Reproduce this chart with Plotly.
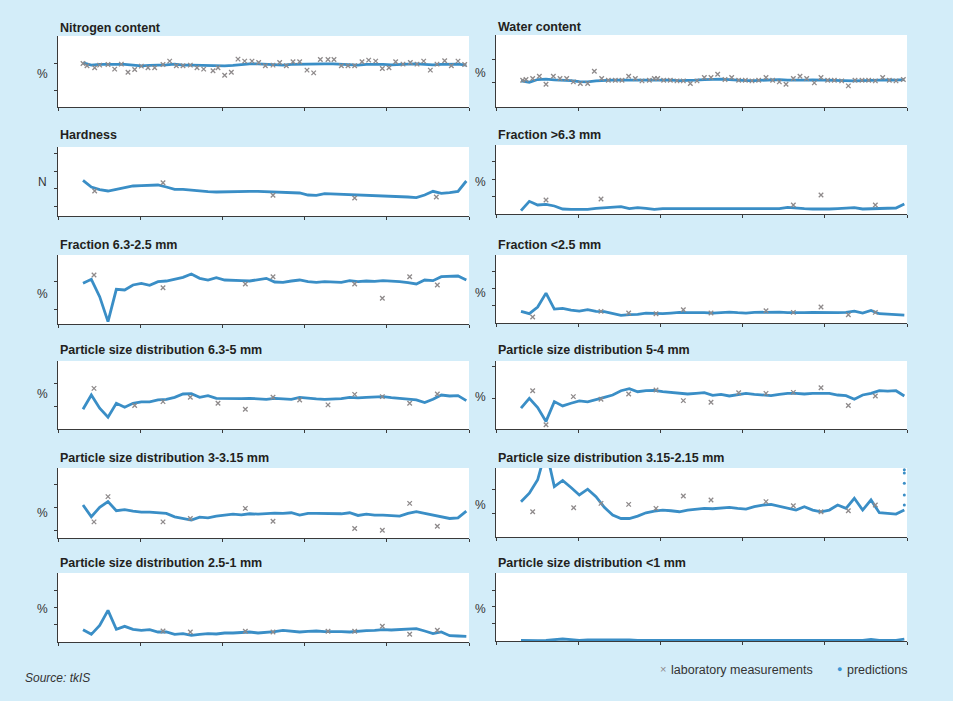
import plotly.graph_objects as go

W, H = 953, 701
BG = "#d3edf9"
BLUE = "#3a8ec6"
GREY = "#8e8a8b"
INK = "#231f20"
AXIS = "#3a3a3a"
FONT = "Liberation Sans, Arial, Helvetica, sans-serif"

# ---------------- data (sample index on x, arbitrary units on y) ----------------
sample_x = [75, 100, 125, 150, 175, 200, 225, 250, 275, 300, 325, 350, 375, 400, 425,
            450, 475, 500, 525, 550, 575, 600, 625, 650, 675, 700, 725, 750, 775, 800,
            825, 850, 875, 900, 925, 950, 975, 1000, 1025, 1050, 1075, 1100, 1125, 1150,
            1175, 1200, 1225]
x_ticks = [0, 246.6, 493.2, 739.8, 986.4, 1233]

titles = ["Nitrogen content", "Water content", "Hardness", "Fraction >6.3 mm",
          "Fraction 6.3-2.5 mm", "Fraction <2.5 mm",
          "Particle size distribution 6.3-5 mm", "Particle size distribution 5-4 mm",
          "Particle size distribution 3-3.15 mm", "Particle size distribution 3.15-2.15 mm",
          "Particle size distribution 2.5-1 mm", "Particle size distribution <1 mm"]
units = ["%", "%", "N", "%", "%", "%", "%", "%", "%", "%", "%", "%"]

nitrogen_pred = [132, 125, 127, 128, 127, 127, 124, 123, 124, 124, 126, 128, 125, 125, 124, 124,
                 123, 123, 124, 127, 129, 129, 128, 126, 125, 127, 128, 127, 128, 129, 129, 128,
                 126, 125, 127, 128, 127, 126, 128, 128, 129, 127, 126, 127, 127, 128, 125]
nitrogen_lab_x = [75, 87, 110, 125, 150, 170, 190, 210, 230, 250, 270, 290, 315, 335, 355, 375,
                  397, 417, 437, 465, 480, 500, 520, 540, 560, 582, 602, 622, 645, 665, 685, 705,
                  725, 747, 767, 787, 810, 828, 850, 870, 890, 912, 932, 953, 973, 993, 1013, 1035,
                  1057, 1077, 1097, 1117, 1137, 1160, 1180, 1200, 1220]
nitrogen_lab_y = [130, 123, 117, 125, 127, 113, 128, 104, 112, 122, 117, 117, 127, 137, 123, 123,
                  125, 117, 113, 108, 117, 95, 104, 143, 137, 137, 133, 123, 125, 133, 123, 135,
                  135, 110, 102, 142, 142, 142, 123, 123, 123, 135, 140, 137, 115, 117, 135, 128,
                  133, 128, 137, 110, 128, 138, 123, 137, 127]

water_pred = [78, 74, 82, 83, 81, 81, 79, 76, 75, 78, 80, 80, 80, 80, 81, 82, 82, 81, 80, 79,
              79, 80, 82, 83, 83, 82, 80, 79, 79, 80, 81, 82, 80, 79, 80, 81, 80, 80, 79, 79,
              78, 79, 80, 80, 81, 80, 82]
water_lab_x = [80, 90, 110, 130, 150, 172, 192, 212, 232, 253, 275, 295, 317, 337, 358, 378,
               398, 418, 438, 460, 475, 485, 503, 523, 543, 562, 583, 603, 625, 645, 665, 687,
               707, 728, 748, 768, 788, 810, 830, 850, 870, 892, 912, 932, 955, 975, 995, 1015,
               1037, 1057, 1077, 1098, 1118, 1138, 1160, 1180, 1200, 1222]
water_lab_y = [80, 82, 85, 92, 68, 92, 85, 85, 75, 70, 70, 107, 85, 80, 80, 80,
               92, 85, 78, 80, 85, 85, 80, 80, 78, 78, 70, 78, 88, 88, 98, 82,
               88, 80, 80, 78, 80, 88, 80, 75, 68, 85, 92, 85, 72, 88, 80, 80,
               78, 63, 80, 80, 80, 78, 88, 80, 78, 82]

hardness_pred = [107, 87, 79, 75, 80, 85, 90, 91, 92, 93, 87, 80, 80, 77, 74, 73, 72, 73, 73, 74,
                 74, 74, 73, 71, 70, 70, 69, 63, 62, 67, 66, 65, 65, 64, 63, 62, 61, 61, 59, 57,
                 55, 63, 74, 68, 70, 74, 105]
hardness_lab_x = [110, 315, 645, 890, 1135]
hardness_lab_y = [75, 100, 62, 54, 57]

coarse_pred = [10, 38, 27, 29, 24, 15, 14, 14, 14, 17, 19, 20, 22, 16, 19, 17, 14, 16, 16, 15,
               14, 14, 14, 15, 16, 15, 14, 14, 14, 14, 14, 16, 20, 17, 16, 15, 14, 15, 16, 17,
               19, 15, 16, 16, 17, 18, 30]
coarse_lab_x = [150, 315, 892, 975, 1138]
coarse_lab_y = [42, 45, 27, 57, 27]

mid_pred = [122, 134, 82, 7, 104, 102, 117, 122, 116, 127, 129, 134, 140, 150, 137, 132, 139, 132,
            132, 130, 129, 134, 137, 126, 125, 129, 132, 127, 125, 127, 127, 125, 130, 127, 129,
            128, 130, 129, 127, 124, 120, 132, 130, 142, 142, 144, 132]
mid_lab_x = [108, 315, 562, 645, 890, 973, 1055, 1138]
mid_lab_y = [147, 109, 120, 142, 120, 77, 142, 117]

fine_pred = [35, 28, 48, 90, 42, 44, 39, 36, 40, 35, 34, 28, 23, 25, 26, 30, 28, 28, 30, 32,
             31, 32, 31, 30, 32, 33, 31, 30, 32, 33, 34, 33, 31, 30, 31, 32, 31, 32, 31, 32,
             36, 30, 38, 28, 26, 25, 24]
fine_lab_x = [110, 315, 398, 480, 562, 645, 810, 892, 975, 1057, 1138]
fine_lab_y = [18, 35, 30, 28, 40, 30, 37, 32, 48, 25, 32]

psd_63_5_pred = [60, 103, 63, 36, 78, 66, 78, 82, 82, 88, 90, 96, 106, 107, 96, 101, 93, 92, 91,
                 92, 93, 91, 90, 93, 91, 90, 96, 93, 91, 90, 91, 92, 96, 94, 96, 97, 98, 95, 93,
                 89, 88, 80, 90, 103, 100, 101, 86]
psd_63_5_lab_x = [108, 230, 315, 397, 480, 562, 645, 725, 810, 890, 973, 1055, 1138]
psd_63_5_lab_y = [123, 71, 83, 96, 78, 60, 96, 88, 73, 105, 98, 78, 106]

psd_5_4_pred = [63, 93, 65, 23, 83, 70, 78, 85, 82, 88, 96, 103, 116, 122, 113, 116, 117, 113,
                110, 108, 106, 108, 110, 102, 105, 100, 104, 108, 105, 102, 101, 105, 108, 108,
                106, 108, 107, 108, 103, 101, 90, 103, 108, 116, 115, 116, 100]
psd_5_4_lab_x = [110, 150, 232, 315, 398, 480, 562, 645, 728, 810, 892, 975, 1057, 1138]
psd_5_4_lab_y = [116, 13, 98, 90, 106, 118, 86, 81, 110, 108, 111, 125, 71, 100]

psd_3_315_pred = [98, 63, 91, 108, 81, 84, 80, 77, 77, 76, 73, 63, 58, 53, 62, 60, 65, 67, 71,
                  69, 72, 71, 73, 74, 73, 75, 68, 73, 73, 72, 73, 72, 75, 67, 71, 68, 68, 67, 65,
                  73, 78, 73, 68, 61, 58, 60, 80]
psd_3_315_lab_x = [108, 150, 315, 397, 562, 645, 890, 973, 1055, 1138]
psd_3_315_lab_y = [48, 123, 48, 58, 88, 50, 28, 23, 103, 35]

psd_315_215_pred = [105, 130, 170, 260, 150, 168, 147, 125, 142, 120, 88, 65, 55, 55, 62, 72, 77,
                    80, 78, 75, 80, 82, 85, 84, 87, 88, 85, 83, 90, 95, 97, 92, 85, 80, 90, 80,
                    75, 80, 95, 85, 115, 80, 110, 72, 70, 68, 80]
psd_315_215_tail_x = [1225, 1225, 1225, 1225, 1225]
psd_315_215_tail_y = [95, 125, 160, 190, 200]
psd_315_215_lab_x = [110, 233, 315, 398, 480, 562, 645, 810, 892, 975, 1057, 1138]
psd_315_215_lab_y = [75, 87, 100, 97, 85, 122, 110, 105, 93, 75, 78, 95]

psd_25_1_pred = [37, 23, 50, 95, 38, 47, 38, 35, 37, 30, 30, 23, 25, 20, 23, 25, 24, 27, 27, 29,
                 30, 27, 28, 31, 35, 32, 30, 32, 33, 31, 32, 31, 30, 33, 34, 35, 37, 36, 37, 37,
                 40, 33, 25, 30, 19, 18, 17]
psd_25_1_lab_x = [315, 397, 562, 645, 810, 890, 973, 1055, 1138]
psd_25_1_lab_y = [33, 30, 32, 30, 32, 32, 47, 23, 35]

psd_1_pred = [2, 1, 1, 2, 5, 6, 4, 2, 3, 3, 3, 4, 5, 3, 2, 2, 3, 3, 2, 2, 3, 2, 3, 3, 3, 3, 2, 2,
              1, 1, 1, 1, 2, 2, 2, 1, 2, 2, 1, 1, 1, 2, 5, 2, 2, 2, 6]
psd_1_lab_x = []
psd_1_lab_y = []

preds = [nitrogen_pred, water_pred, hardness_pred, coarse_pred, mid_pred, fine_pred,
         psd_63_5_pred, psd_5_4_pred, psd_3_315_pred, psd_315_215_pred, psd_25_1_pred, psd_1_pred]
labs = [(nitrogen_lab_x, nitrogen_lab_y), (water_lab_x, water_lab_y),
        (hardness_lab_x, hardness_lab_y), (coarse_lab_x, coarse_lab_y),
        (mid_lab_x, mid_lab_y), (fine_lab_x, fine_lab_y),
        (psd_63_5_lab_x, psd_63_5_lab_y), (psd_5_4_lab_x, psd_5_4_lab_y),
        (psd_3_315_lab_x, psd_3_315_lab_y), (psd_315_215_lab_x, psd_315_215_lab_y),
        (psd_25_1_lab_x, psd_25_1_lab_y), (psd_1_lab_x, psd_1_lab_y)]
y_max = [212, 215, 207, 207, 207, 205, 206, 206, 208, 205, 207, 205]
y_ticks = [[130, 48], [143, 74], [187, 135, 82, 30], [157, 105, 52], [127, 44],
           [155, 103, 52], [138, 68], [188, 93], [160, 90, 23], [140, 70],
           [155, 105, 53], [153, 103, 53]]

# ---------------- layout geometry (pixels) ----------------
col_x = [(58, 469), (496, 907)]
panel_y = [(36, 107), (35, 107), (147, 216), (145, 214), (255, 324), (255, 323),
           (361, 429), (361, 429), (468, 538), (468, 537), (573, 642), (573, 641)]
title_y = [28, 27, 135, 135, 245, 245, 350, 350, 458, 458, 563, 563]
unit_y = [74, 73, 182, 182, 294, 293, 394, 397, 513, 505, 609, 609]
unit_x = [42, 481]


def px(x):
    return x / W


def py(y):
    return 1 - y / H


fig = go.Figure()
layout = dict(
    width=W, height=H, margin=dict(l=0, r=0, t=0, b=0),
    paper_bgcolor=BG, plot_bgcolor="white", showlegend=False,
    font=dict(family=FONT, color=INK, size=12),
)
annotations = []

for i in range(12):
    col = i % 2
    n = "" if i == 0 else str(i + 1)
    xa, ya = "x" + n, "y" + n
    x0, x1 = col_x[col]
    t, b = panel_y[i]
    common = dict(showline=True, linecolor=AXIS, linewidth=1, ticks="outside", ticklen=3,
                  tickwidth=1, tickcolor=AXIS, showticklabels=False, showgrid=False,
                  zeroline=False, fixedrange=True)
    layout["xaxis" + n] = dict(common, domain=[px(x0), px(x1)], range=[0, 1233],
                               tickvals=x_ticks, anchor=ya)
    layout["yaxis" + n] = dict(common, domain=[py(b), py(t)], range=[0, y_max[i]],
                               tickvals=y_ticks[i], anchor=xa)

    fig.add_trace(go.Scatter(x=sample_x, y=preds[i], mode="lines",
                             line=dict(color=BLUE, width=2.8), xaxis=xa, yaxis=ya,
                             hoverinfo="skip"))
    if i == 9:
        fig.add_trace(go.Scatter(x=psd_315_215_tail_x, y=psd_315_215_tail_y, mode="markers",
                                 marker=dict(color=BLUE, size=3), xaxis=xa, yaxis=ya,
                                 hoverinfo="skip"))
    lx, ly = labs[i]
    if lx:
        fig.add_trace(go.Scatter(x=lx, y=ly, mode="markers",
                                 marker=dict(symbol="x-thin", size=4.5, color=GREY,
                                             line=dict(color=GREY, width=1.3)),
                                 xaxis=xa, yaxis=ya, hoverinfo="skip"))

    annotations.append(dict(text="<b>" + titles[i] + "</b>", x=px(x0), y=py(title_y[i]),
                            xref="paper", yref="paper", xanchor="left", yanchor="middle",
                            showarrow=False, font=dict(size=12.5, color=INK, family=FONT)))
    annotations.append(dict(text=units[i], x=px(unit_x[col]), y=py(unit_y[i]),
                            xref="paper", yref="paper", xanchor="center", yanchor="middle",
                            showarrow=False, font=dict(size=12, color="#333333", family=FONT)))

# legend and source
annotations += [
    dict(text="×", x=px(663), y=py(669), xref="paper", yref="paper", xanchor="center",
         yanchor="middle", showarrow=False, font=dict(size=11, color=GREY, family=FONT)),
    dict(text="laboratory measurements", x=px(669), y=py(670), xref="paper", yref="paper",
         xanchor="left", yanchor="middle", showarrow=False,
         font=dict(size=12.5, color="#333333", family=FONT)),
    dict(text="●", x=px(839), y=py(669), xref="paper", yref="paper", xanchor="center",
         yanchor="middle", showarrow=False, font=dict(size=9, color="#3a96d6", family=FONT)),
    dict(text="predictions", x=px(845), y=py(670), xref="paper", yref="paper",
         xanchor="left", yanchor="middle", showarrow=False,
         font=dict(size=12.5, color="#333333", family=FONT)),
    dict(text="<i>Source: tkIS</i>", x=px(23), y=py(678), xref="paper", yref="paper",
         xanchor="left", yanchor="middle", showarrow=False,
         font=dict(size=12, color="#333333", family=FONT)),
]
layout["annotations"] = annotations
fig.update_layout(**layout)
fig.write_html("out.html", config={"displayModeBar": False},
               post_script="document.body.style.margin='0';")
